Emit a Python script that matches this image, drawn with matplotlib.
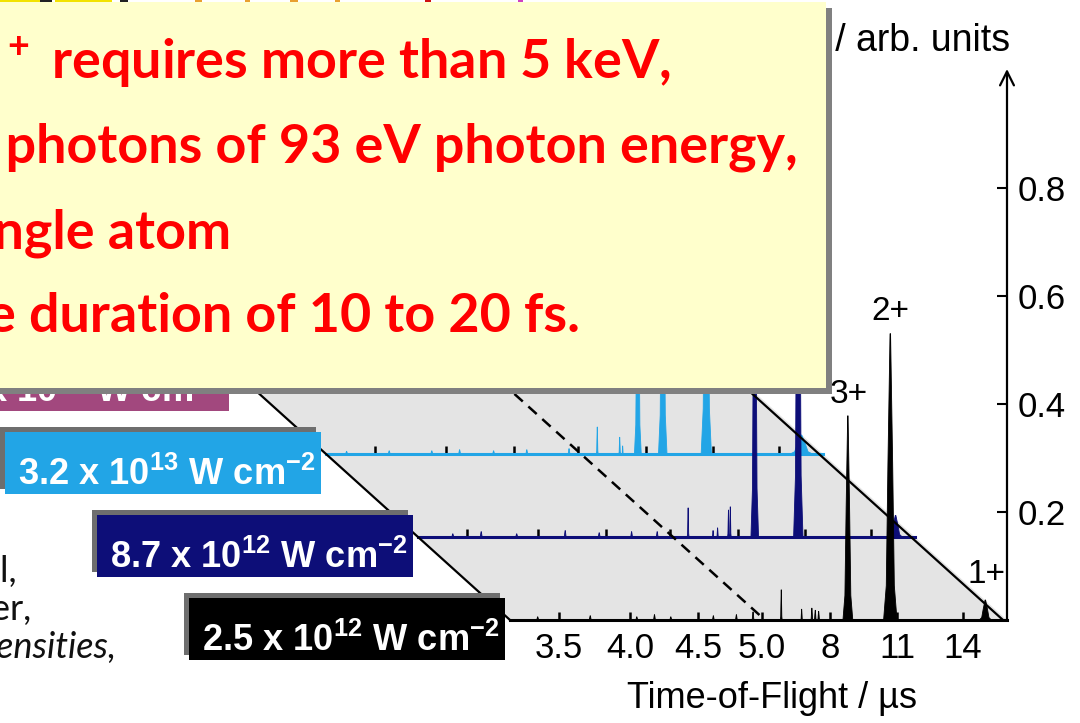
import numpy as np
import matplotlib
matplotlib.use("Agg")
import matplotlib.pyplot as plt
from matplotlib.patches import Rectangle, Polygon

plt.rcParams["font.family"] = ["Liberation Sans", "DejaVu Sans"]
plt.rcParams["mathtext.default"] = "regular"

# ---------------- data ----------------
tof_ticks = [3.5, 4.0, 4.5, 5.0, 8, 11, 14]
tof_labels = ["3.5", "4.0", "4.5", "5.0", "8", "11", "14"]
int_ticks = [0.2, 0.4, 0.6, 0.8]
int_labels = ["0.2", "0.4", "0.6", "0.8"]

charges = ["3+", "2+", "1+"]
charge_t = [8.85, 10.7, 15.03]
charge_y = [0.417, 0.572, 0.085]

# laser intensities, front to back
intensities = ["2.5 x 10$^{12}$ W cm$^{-2}$", "8.7 x 10$^{12}$ W cm$^{-2}$",
               "3.2 x 10$^{13}$ W cm$^{-2}$", "1.1 x 10$^{14}$ W cm$^{-2}$"]
colors = ["#000000", "#0d0e78", "#22a5e6", "#a2487e"]

# peaks of each spectrum: centre / µs, height / arb. units, half width / µs
t_25 = [3.35, 3.72, 4.05, 4.18, 4.3, 4.62, 4.8, 4.93, 5.85, 6.75, 7.2, 7.35, 7.5, 8.8, 10.7, 15.0]
h_25 = [0.006, 0.008, 0.006, 0.01, 0.006, 0.008, 0.01, 0.015, 0.056, 0.02, 0.022, 0.018, 0.016, 0.378, 0.53, 0.037]
w_25 = [0.01, 0.01, 0.01, 0.01, 0.01, 0.01, 0.01, 0.01, 0.04, 0.04, 0.05, 0.05, 0.05, 0.22, 0.3, 0.27]

t_87 = [3.4, 3.6, 3.85, 4.2, 4.45, 4.7, 4.9, 5.8, 6.9, 7.1, 7.58, 7.66, 8.75, 10.7, 15.1]
h_87 = [0.006, 0.01, 0.006, 0.012, 0.008, 0.01, 0.01, 0.054, 0.012, 0.017, 0.05, 0.056, 0.75, 0.95, 0.04]
w_87 = [0.01, 0.01, 0.01, 0.01, 0.01, 0.01, 0.01, 0.04, 0.04, 0.04, 0.04, 0.04, 0.17, 0.21, 0.3]

t_32 = [3.3, 3.6, 3.9, 4.1, 4.35, 4.6, 4.93, 5.85, 6.84, 6.97, 7.64, 8.75, 10.7, 15.0]
h_32 = [0.005, 0.006, 0.006, 0.008, 0.006, 0.008, 0.01, 0.05, 0.031, 0.015, 0.45, 0.6, 0.7, 0.035]
w_32 = [0.01, 0.01, 0.01, 0.01, 0.01, 0.01, 0.01, 0.04, 0.04, 0.03, 0.15, 0.19, 0.23, 0.5]

spectra = [(t_25, h_25, w_25), (t_87, h_87, w_87), (t_32, h_32, w_32)]
t_break = 4.98

# ---------------- layout (pixels, y downwards) ----------------
W, H = 1080, 723
fig = plt.figure(figsize=(W / 100, H / 100), dpi=100)
renderer = fig.canvas.get_renderer()

FX0, FX1, FTOP, FBASE = 510, 1007, 69, 620   # front spectrum frame
DX, DY = 92, 83                                # shift to the next spectrum behind

# broken time-of-flight axis: piecewise linear scale
t_knots = [3.155, 3.5, 4.0, 4.5, 5.0, 8.0, 11.0, 14.0, 15.97]
u_knots = [510, 559, 630, 698, 762, 830, 897, 963, 1007]


def fwd(t):
    return np.interp(t, t_knots, u_knots)


def inv(u):
    return np.interp(u, u_knots, t_knots)


def px_axes(x0, top, x1, bottom, z):
    return fig.add_axes([x0 / W, 1 - bottom / H, (x1 - x0) / W, (bottom - top) / H], zorder=z)


def fit(txt, width):
    w = txt.get_window_extent(renderer).width
    txt.set_fontsize(txt.get_fontsize() * width / w)
    return txt.get_fontsize()


# background: grey floor of the waterfall
bg = fig.add_axes([0, 0, 1, 1], zorder=0)
bg.set_xlim(0, W)
bg.set_ylim(H, 0)
bg.axis("off")
bg.add_patch(Polygon([(FX0, FBASE), (FX1, FBASE), (FX1 - 4 * DX, FBASE - 4 * DY),
                      (FX0 - 4 * DX, FBASE - 4 * DY)], closed=True, color="#e4e4e4", lw=0))

# spectra, back to front
for k in [2, 1, 0]:
    ax = px_axes(FX0 - k * DX, FTOP - k * DY, FX1 - k * DX, FBASE - k * DY, 1 + (3 - k))
    ax.set_facecolor("none")
    ax.set_xscale("function", functions=(fwd, inv))
    ax.set_xlim(t_knots[0], t_knots[-1])
    ax.set_ylim(0, 1.02)
    col = colors[k]
    for c, h, w in zip(*spectra[k]):
        ts = [c - w, c - 0.6 * w, c - 0.35 * w, c - 0.04 * w, c + 0.04 * w, c + 0.35 * w, c + 0.6 * w, c + w]
        ys = [0, 0.12 * h, 0.55 * h, h, h, 0.55 * h, 0.12 * h, 0]
        ax.fill(ts, ys, color=col, lw=0.6)
    for s in ["left", "top", "right"]:
        ax.spines[s].set_visible(False)
    ax.spines["bottom"].set_color(col)
    ax.spines["bottom"].set_linewidth(2.2)
    ax.set_xticks(tof_ticks)
    ax.tick_params(axis="x", which="both", direction="in", length=6, width=1.8, color="k")
    ax.xaxis.set_minor_locator(matplotlib.ticker.NullLocator())
    if k > 0:
        ax.set_yticks([])
        ax.tick_params(axis="x", labelbottom=False)
    else:
        ax.set_xticklabels(tof_labels)
        ax.tick_params(axis="x", labelsize=25, pad=9)
        ax.yaxis.tick_right()
        ax.set_yticks(int_ticks)
        ax.set_yticklabels(int_labels)
        ax.tick_params(axis="y", direction="in", length=7, width=1.5, labelsize=25, pad=8)
        ax.annotate("", xy=(1, 1), xytext=(1, 0), xycoords="axes fraction",
                    arrowprops=dict(arrowstyle="->,head_length=0.5,head_width=0.25",
                                    mutation_scale=20, lw=1.6, color="k", shrinkA=0, shrinkB=0))
        ax.set_xlabel("Time-of-Flight / µs", fontsize=26)
        ax.xaxis.set_label_coords(0.528, -0.11)
        for s, t, y in zip(charges, charge_t, charge_y):
            ax.text(t, y, s, ha="center", va="center", fontsize=24)

# overlay: guide lines, labels, text box
top = fig.add_axes([0, 0, 1, 1], zorder=10)
top.set_facecolor("none")
top.set_xlim(0, W)
top.set_ylim(H, 0)
top.axis("off")

top.plot([FX0, FX0 - 4 * DX], [FBASE, FBASE - 4 * DY], color="k", lw=1.6, zorder=1)
top.plot([FX1 - 4, FX1 - 4 - 4 * DX], [FBASE, FBASE - 4 * DY], color="k", lw=1.6, zorder=1)
xb = float(fwd(t_break))
top.plot([xb, xb - 3.2 * DX], [FBASE - 5, FBASE - 5 - 3.2 * DY], color="k", lw=1.8,
         dashes=(4.5, 3), zorder=1)

# intensity labels
lab_size = None
for k in [3, 2, 1, 0]:
    x0, y0 = 189 - k * DX, 598 - k * DY
    top.add_patch(Rectangle((x0 - 5, y0 - 5), 316, 62, color="#6e6e6e", lw=0, zorder=2))
    top.add_patch(Rectangle((x0, y0), 316, 62, color=colors[k], lw=0, zorder=2))
    t = top.text(x0 + 13, y0 + 53, intensities[k], color="white", fontweight="bold",
                 fontsize=28, va="baseline", ha="left", zorder=3)
    if lab_size is None:
        lab_size = fit(t, 298)
    t.set_fontsize(lab_size)

top.text(1010, 51, "Intensity / arb. units", ha="right", va="baseline", fontsize=27, zorder=3)

# slide text box
top.add_patch(Rectangle((-10, 8), 842, 386, color="#808080", lw=0, zorder=4))
top.add_patch(Rectangle((-10, 2), 836, 386, color="#ffffcc", lw=0, zorder=5))

probe = top.text(5, 163, "photons of 93 eV photon energy,", fontsize=40, family=["Lato", "DejaVu Sans"],
                 fontweight="bold")
red_size = fit(probe, 793)
probe.remove()
red_lines = ["Xe$^{21+}$ requires more than 5 keV,", "at least 57 photons of 93 eV photon energy,",
             "absorbed by a single atom", "within the pulse duration of 10 to 20 fs."]
red_right = [671, 798, 231, 580]
red_base = [79, 163, 248, 332]
for s, x, y in zip(red_lines, red_right, red_base):
    top.text(x, y, s, ha="right", va="baseline", color="#ff0000", fontsize=red_size,
             family=["Lato", "DejaVu Sans"], fontweight="bold", zorder=6)

# slide body text at the left
body = ["signal,", "power,", "intensities,"]
body_right = [17, 32, 117]
body_base = [582, 620, 658]
body_style = ["normal", "normal", "italic"]
for s, x, y, st in zip(body, body_right, body_base, body_style):
    top.text(x, y, s, ha="right", va="baseline", fontsize=26, style=st,
             family=["Lato", "DejaVu Sans"], color="#111111", zorder=3)

# bits of the slide element above the box
strip = [(0, 40, "#f2e200"), (40, 52, "#222222"), (55, 112, "#f2e200"), (120, 128, "#222222"),
         (195, 202, "#e8a030"), (245, 250, "#e8a030"), (290, 298, "#e8a030"), (335, 340, "#e8a030"),
         (425, 431, "#d01010"), (518, 523, "#d040c0")]
for a, b, c in strip:
    top.add_patch(Rectangle((a, 0), b - a, 2.5, color=c, lw=0, zorder=4))

fig.savefig("out.png", dpi=100)
